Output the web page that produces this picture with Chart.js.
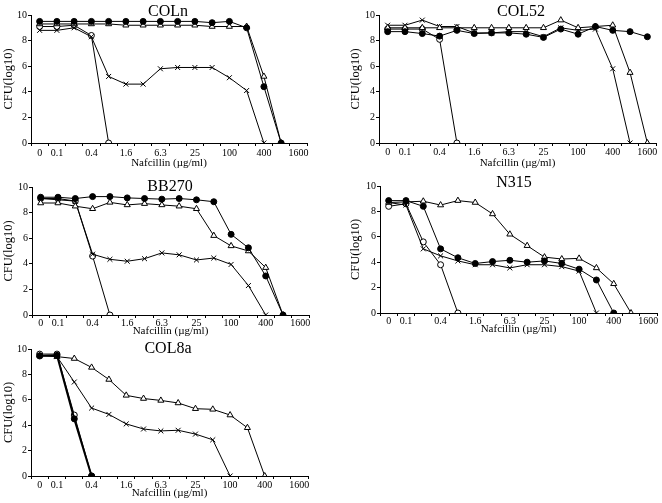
<!DOCTYPE html>
<html lang="en">
<head>
  <meta charset="UTF-8">
  <title>Nafcillin population analysis</title>
  <script src="https://cdn.jsdelivr.net/npm/chart.js"></script>
  <style>
    body { margin: 0; background: #fff; }
    canvas { position: absolute; }
  </style>
</head>
<body>
  <canvas id="colnChart"></canvas>
  <canvas id="col52Chart"></canvas>
  <canvas id="bb270Chart"></canvas>
  <canvas id="n315Chart"></canvas>
  <canvas id="col8aChart"></canvas>

  <script>
    // nafcillin concentrations (ug/ml), two-fold steps
    const concentrations = ['0', '0.1', '0.2', '0.4', '0.8', '1.6', '3.1', '6.3', '12.5', '25', '50', '100', '200', '400', '800', '1600'];
    const shownTicks = ['0', '0.1', '0.4', '1.6', '6.3', '25', '100', '400', '1600'];
    const yTicks = [0, 2, 4, 6, 8, 10];

    // CFU(log10) per strain: filled circle, open triangle, cross, open circle
    const colnFilled   = [9.5, 9.5, 9.5, 9.5, 9.5, 9.5, 9.5, 9.5, 9.5, 9.5, 9.4, 9.5, 9.0, 4.4, 0, null];
    const colnTriangle = [9.3, 9.3, 9.3, 9.3, 9.3, 9.2, 9.2, 9.2, 9.2, 9.2, 9.1, 9.1, 9.1, 5.2, 0, null];
    const colnCross    = [8.8, 8.8, 9.0, 8.3, 5.2, 4.6, 4.6, 5.8, 5.9, 5.9, 5.9, 5.1, 4.1, 0, null, null];
    const colnOpen     = [9.1, 9.1, 9.2, 8.4, 0, null, null, null, null, null, null, null, null, null, null, null];

    const col52Filled   = [8.7, 8.7, 8.55, 8.35, 8.8, 8.55, 8.6, 8.6, 8.5, 8.25, 8.9, 8.5, 9.1, 8.8, 8.7, 8.3];
    const col52Triangle = [9.0, 9.0, 9.0, 9.0, 9.0, 9.0, 9.0, 9.0, 9.0, 9.0, 9.6, 9.0, 9.1, 9.2, 5.5, 0];
    const col52Cross    = [9.2, 9.2, 9.6, 9.1, 9.1, 8.6, 8.6, 8.7, 8.7, 8.3, 9.0, 8.8, 8.9, 5.8, 0, null];
    const col52Open     = [8.9, 8.9, 8.9, 8.1, 0, null, null, null, null, null, null, null, null, null, null, null];

    const bb270Filled   = [9.2, 9.2, 9.1, 9.25, 9.25, 9.15, 9.1, 9.05, 9.1, 9.0, 8.85, 6.3, 5.25, 3.05, 0, null];
    const bb270Triangle = [8.75, 8.75, 8.5, 8.3, 8.8, 8.6, 8.7, 8.6, 8.5, 8.3, 6.2, 5.4, 5.0, 3.7, 0, null];
    const bb270Cross    = [9.1, 9.0, 8.9, 4.75, 4.35, 4.2, 4.4, 4.85, 4.7, 4.3, 4.45, 3.95, 2.3, 0, null, null];
    const bb270Open     = [9.1, 9.1, 8.9, 4.6, 0, null, null, null, null, null, null, null, null, null, null, null];

    const n315Filled   = [8.85, 8.85, 8.4, 5.05, 4.35, 3.9, 4.05, 4.15, 4.0, 4.1, 3.9, 3.45, 2.6, 0, null, null];
    const n315Triangle = [8.7, 8.75, 8.8, 8.5, 8.85, 8.7, 7.8, 6.2, 5.3, 4.4, 4.25, 4.3, 3.55, 2.3, 0, null];
    const n315Cross    = [8.7, 8.5, 5.05, 4.5, 4.1, 3.8, 3.8, 3.55, 3.8, 3.8, 3.65, 3.3, 0, null, null, null];
    const n315Open     = [8.4, 8.6, 5.6, 3.8, 0, null, null, null, null, null, null, null, null, null, null, null];

    const col8aFilled   = [9.45, 9.5, 4.5, 0, null, null, null, null, null, null, null, null, null, null, null, null];
    const col8aTriangle = [9.5, 9.4, 9.25, 8.55, 7.6, 6.35, 6.1, 5.95, 5.75, 5.3, 5.25, 4.8, 3.8, 0, null, null];
    const col8aCross    = [9.5, 9.4, 7.4, 5.35, 4.85, 4.1, 3.7, 3.55, 3.6, 3.3, 2.85, 0, null, null, null, null];
    const col8aOpen     = [9.6, 9.6, 4.8, 0, null, null, null, null, null, null, null, null, null, null, null, null];

    const serif = '"Liberation Serif", "Times New Roman", serif';

    // strain name drawn over the top of the plot, like the original
    const panelTitle = {
      id: 'panelTitle',
      afterDraw(chart, args, opts) {
        const ctx = chart.ctx;
        ctx.save();
        ctx.font = '16px ' + serif;
        ctx.fillStyle = '#000';
        ctx.textAlign = 'center';
        ctx.textBaseline = 'middle';
        ctx.fillText(opts.text, opts.x, opts.y);
        ctx.restore();
      }
    };

    function makeSets(filled, triangle, cross, open, filledWidth) {
      const base = { borderColor: '#000', pointBorderColor: '#000', pointBorderWidth: 1, borderWidth: 1, tension: 0 };
      return [
        Object.assign({}, base, { label: 'filled', data: filled, pointStyle: 'circle', pointRadius: 3, pointBackgroundColor: '#000', borderWidth: filledWidth || 1 }),
        Object.assign({}, base, { label: 'triangle', data: triangle, pointStyle: 'triangle', pointRadius: 3.5, pointBackgroundColor: '#fff' }),
        Object.assign({}, base, { label: 'cross', data: cross, pointStyle: 'crossRot', pointRadius: 3.5 }),
        Object.assign({}, base, { label: 'open', data: open, pointStyle: 'circle', pointRadius: 3, pointBackgroundColor: '#fff' })
      ];
    }

    // box: canvas position on page; area: plot area on page
    function createChart(id, box, area, title, sets, tickPad) {
      const canvas = document.getElementById(id);
      canvas.width = box.w;
      canvas.height = box.h;
      canvas.style.left = box.x + 'px';
      canvas.style.top = box.y + 'px';
      canvas.style.width = box.w + 'px';
      canvas.style.height = box.h + 'px';

      new Chart(canvas.getContext('2d'), {
        type: 'line',
        data: { labels: concentrations, datasets: sets },
        plugins: [panelTitle],
        options: {
          responsive: false,
          animation: false,
          layout: {
            padding: { left: 0, top: area.t - box.y, right: box.x + box.w - area.r, bottom: 0 }
          },
          plugins: {
            legend: { display: false },
            tooltip: { enabled: false },
            panelTitle: { text: title.text, x: title.x - box.x, y: title.y - box.y }
          },
          scales: {
            x: {
              offset: true,
              afterFit: s => { s.height = box.y + box.h - area.b; },
              grid: { offset: true, drawOnChartArea: false, drawTicks: true, tickLength: 3, color: '#000' },
              border: { display: true, color: '#000', width: 1 },
              ticks: {
                autoSkip: false,
                maxRotation: 0,
                padding: tickPad,
                color: '#000',
                font: { family: serif, size: 10 },
                callback: function (value) {
                  const c = this.getLabelForValue(value);
                  return shownTicks.includes(c) ? c : '';
                }
              },
              title: { display: true, text: 'Nafcillin (µg/ml)', color: '#000', font: { family: serif, size: 11 }, padding: 0 }
            },
            y: {
              min: 0,
              max: 10,
              afterFit: s => { s.width = area.l - box.x; },
              afterBuildTicks: s => { s.ticks = yTicks.map(v => ({ value: v })); },
              grid: { drawOnChartArea: false, drawTicks: true, tickLength: 3, color: '#000' },
              border: { display: true, color: '#000', width: 1 },
              ticks: { padding: 1, color: '#000', font: { family: serif, size: 10 } },
              title: { display: true, text: 'CFU(log10)', color: '#000', font: { family: serif, size: 12.5 }, padding: { top: 1.5, bottom: 0 } }
            }
          }
        }
      });
    }

    createChart('colnChart', { x: 0, y: 0, w: 320, h: 170 }, { l: 31, t: 15, r: 307, b: 143 },
      { text: 'COLn', x: 168, y: 12 }, makeSets(colnFilled, colnTriangle, colnCross, colnOpen), 1);
    createChart('col52Chart', { x: 347, y: 0, w: 315, h: 170 }, { l: 379, t: 15, r: 656, b: 143 },
      { text: 'COL52', x: 521, y: 12 }, makeSets(col52Filled, col52Triangle, col52Cross, col52Open), 0);
    createChart('bb270Chart', { x: 0, y: 168, w: 320, h: 170 }, { l: 32, t: 187, r: 309, b: 315 },
      { text: 'BB270', x: 170, y: 187 }, makeSets(bb270Filled, bb270Triangle, bb270Cross, bb270Open), -1);
    createChart('n315Chart', { x: 347, y: 168, w: 315, h: 168 }, { l: 380, t: 186, r: 659, b: 313 },
      { text: 'N315', x: 514, y: 183 }, makeSets(n315Filled, n315Triangle, n315Cross, n315Open), -1);
    createChart('col8aChart', { x: 0, y: 333, w: 320, h: 167 }, { l: 31, t: 349, r: 308, b: 476 },
      { text: 'COL8a', x: 168, y: 349 }, makeSets(col8aFilled, col8aTriangle, col8aCross, col8aOpen, 2), 0);
  </script>
</body>
</html>
